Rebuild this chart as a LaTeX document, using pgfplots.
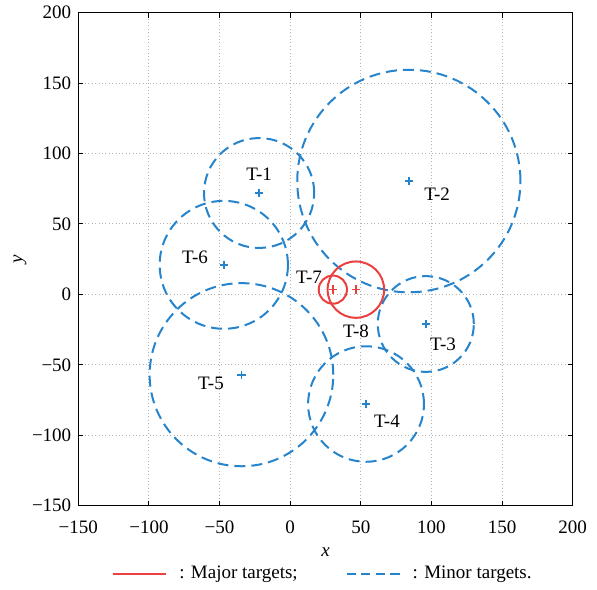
\documentclass[border=0pt]{standalone}
\usepackage{pgfplots}
\usepackage{pgfplotstable}
\pgfplotsset{compat=1.18}
\usepackage{fontspec}
\setmainfont{Liberation Serif}

\definecolor{majorred}{RGB}{234,64,64}
\definecolor{minorblue}{RGB}{38,132,204}
\definecolor{gridgray}{RGB}{178,178,178}

\tikzset{
  major/.style={majorred, line width=1pt},
  minor/.style={minorblue, line width=1pt, dash pattern=on 5.5pt off 3pt},
}

% target centre (x,y), threat radius r, label position (lx,ly)
\pgfplotstableread{
name x     y     r   lx     ly
T-1  -22   72    39  -22    85
T-2  84    80.5  79  104    71.3
T-3  96    -21   34  108.2  -35.2
T-4  53.7  -77.8 41  68.5   -89.9
T-5  -34.5 -57   65  -56.1  -62.9
T-6  -47   21    45.4 -67.4 26.6
}\minortargets

\pgfplotstableread{
name x     y     r   lx     ly
T-7  30.2  3.4   10  13.3   12.4
T-8  46.5  3.4   20  46.6   -26
}\majortargets

% draw one circle per table row, centred on (x,y) with radius r
\newcommand\drawzones[3]{%
  \pgfplotsforeachungrouped \i in {0,...,#2}{%
    \pgfplotstablegetelem{\i}{x}\of{#1}\let\cx\pgfplotsretval
    \pgfplotstablegetelem{\i}{y}\of{#1}\let\cy\pgfplotsretval
    \pgfplotstablegetelem{\i}{r}\of{#1}\let\rad\pgfplotsretval
    \edef\next{\noexpand\draw[#3] (axis cs:\cx,\cy) circle[radius=\rad];}\next
  }}

\begin{document}
\begin{tikzpicture}[font=\fontsize{9.5}{11}\selectfont]
\begin{axis}[
  name=ax,
  scale only axis,
  width=247.2pt, height=246.5pt,
  xmin=-150, xmax=200, ymin=-150, ymax=200,
  disabledatascaling,
  xtick={-150,-100,...,200},
  ytick={-150,-100,...,200},
  xticklabels={−150,−100,−50,0,50,100,150,200},
  yticklabels={−150,−100,−50,0,50,100,150,200},
  tick label style={font=\fontsize{9.5}{11}\selectfont},
  xticklabel style={yshift=-4pt},
  tick align=inside,
  major tick length=2.4pt,
  tick style={black, line width=0.5pt},
  axis line style={black, line width=0.5pt},
  grid=major,
  grid style={gridgray, line width=0.5pt, dash pattern=on 0.5pt off 1.2pt},
  xlabel={\textit{x}}, ylabel={\textit{y}},
  xlabel style={at={(axis description cs:0.5,-0.094)}, anchor=center},
  ylabel style={at={(axis description cs:-0.118,0.5)}, anchor=center},
  legend columns=2,
  legend cell align=left,
  legend image code/.code={\draw[#1] (0pt,0pt) -- (26.5pt,0pt); \path (30.5pt,0pt);},
  legend style={at={(axis description cs:0.068,-0.1386)}, anchor=west,
    draw=none, fill=none, inner sep=0pt,
    font=\fontsize{9.5}{11}\selectfont,
    /tikz/every even column/.append style={column sep=22pt}},
]
\addlegendimage{major}
\addlegendentry{: Major targets;}
\addlegendimage{minor, dash pattern=on 4.6pt off 2.7pt}
\addlegendentry{: Minor targets.}

\drawzones{\minortargets}{5}{minor}
\drawzones{\majortargets}{1}{major}

\addplot[only marks, mark=+, mark size=2.1pt, color=minorblue,
  mark options={solid, line width=0.8pt}, forget plot]
  table[x=x, y=y] {\minortargets};
\addplot[only marks, mark=+, mark size=2.1pt, color=majorred,
  mark options={solid, line width=0.8pt}, forget plot]
  table[x=x, y=y] {\majortargets};

\addplot[draw=none, mark=none, forget plot, point meta=explicit symbolic,
  nodes near coords, nodes near coords align={center},
  every node near coord/.append style={black, inner sep=0pt}]
  table[x=lx, y=ly, meta=name] {\minortargets};
\addplot[draw=none, mark=none, forget plot, point meta=explicit symbolic,
  nodes near coords, nodes near coords align={center},
  every node near coord/.append style={black, inner sep=0pt}]
  table[x=lx, y=ly, meta=name] {\majortargets};
\end{axis}
\pgfresetboundingbox
\path[use as bounding box]
  ([shift={(-39.15pt,-41.65pt)}]ax.south west) rectangle
  ([shift={(12.15pt,6.35pt)}]ax.north east);
\end{tikzpicture}
\end{document}
